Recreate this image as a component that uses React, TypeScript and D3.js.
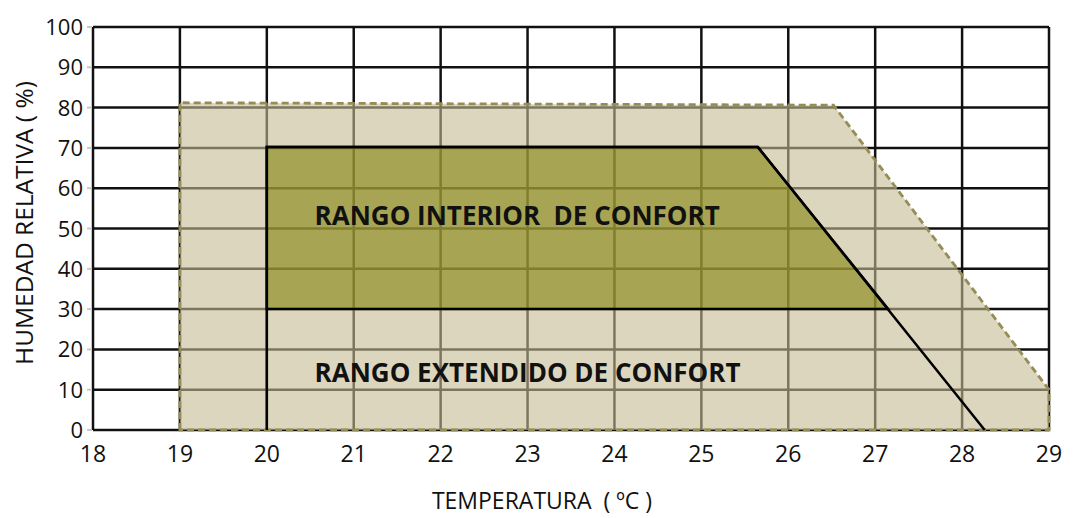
import React, {Component} from 'react'
import * as d3 from 'd3';

// axis ticks
const tempTicks = [18, 19, 20, 21, 22, 23, 24, 25, 26, 27, 28, 29];
const humTicks = [0, 10, 20, 30, 40, 50, 60, 70, 80, 90, 100];

// extended comfort range (outer dashed area)
const extendedTemp = [19, 19, 26.52, 29, 29];
const extendedHum = [0, 81.2, 80.6, 10, 0];

// interior comfort range (inner olive area)
const interiorTemp = [20, 20, 25.65, 27.15];
const interiorHum = [30, 70.2, 70.2, 30];

// black boundary line of the interior range
const boundaryTemp = [20, 20, 25.65, 28.26];
const boundaryHum = [0, 70.2, 70.2, 0];

const labelInterior = "RANGO INTERIOR  DE CONFORT";
const labelExtended = "RANGO EXTENDIDO DE CONFORT";
const labelInteriorAt = [20.55, 50.9];
const labelExtendedAt = [20.55, 11.9];

const xTitle = "TEMPERATURA  ( ºC )";
const yTitle = "HUMEDAD RELATIVA ( %)";

class App extends Component {
    svgRef = React.createRef<SVGSVGElement>();

    componentDidMount() {
        let svg = d3.select(this.svgRef.current);
        svg.selectAll("*").remove();

        let width = 1073;
        let height = 518;
        let margin = {top: 27, right: 24, bottom: 88, left: 93};

        let xScale = d3.scaleLinear()
            .domain([18, 29])
            .range([margin.left, width - margin.right]);

        let yScale = d3.scaleLinear()
            .domain([0, 100])
            .range([height - margin.bottom, margin.top]);

        let font = "'Open Sans', 'Noto Sans', sans-serif";

        // grid
        let grid = svg.append("g");
        grid.selectAll("line.h")
            .data(humTicks)
            .enter()
            .append("line")
            .attr("class", "h")
            .attr("x1", xScale(18))
            .attr("x2", xScale(29))
            .attr("y1", d => yScale(d))
            .attr("y2", d => yScale(d))
            .attr("stroke", "#111")
            .attr("stroke-width", 2.5);

        grid.selectAll("line.v")
            .data(tempTicks)
            .enter()
            .append("line")
            .attr("class", "v")
            .attr("x1", d => xScale(d))
            .attr("x2", d => xScale(d))
            .attr("y1", yScale(0))
            .attr("y2", yScale(100))
            .attr("stroke", "#111")
            .attr("stroke-width", 2.5);

        // small gray tick stubs on the y axis
        grid.selectAll("line.t")
            .data(humTicks)
            .enter()
            .append("line")
            .attr("class", "t")
            .attr("x1", xScale(18) - 6)
            .attr("x2", xScale(18) - 1)
            .attr("y1", d => yScale(d))
            .attr("y2", d => yScale(d))
            .attr("stroke", "#c8c8c8")
            .attr("stroke-width", 2);

        let area = d3.line<number>()
            .x(i => xScale(i[0]))
            .y(i => yScale(i[1]));

        let extendedPts: any = extendedTemp.map((t, i) => [t, extendedHum[i]]);
        let interiorPts: any = interiorTemp.map((t, i) => [t, interiorHum[i]]);
        let boundaryPts: any = boundaryTemp.map((t, i) => [t, boundaryHum[i]]);

        // extended area
        svg.append("path")
            .attr("d", area(extendedPts) + "Z")
            .attr("fill", "#c3bb91")
            .attr("fill-opacity", 0.6)
            .attr("stroke", "none");

        svg.append("path")
            .attr("d", area(extendedPts) + "Z")
            .attr("fill", "none")
            .attr("stroke", "#958d55")
            .attr("stroke-width", 2.8)
            .attr("stroke-dasharray", "7,4");

        // interior area
        svg.append("path")
            .attr("d", area(interiorPts) + "Z")
            .attr("fill", "#83840b")
            .attr("fill-opacity", 0.6)
            .attr("stroke", "#000")
            .attr("stroke-width", 2.5);

        svg.append("path")
            .attr("d", area(boundaryPts))
            .attr("fill", "none")
            .attr("stroke", "#000")
            .attr("stroke-width", 2.5);

        // y tick labels
        svg.selectAll("text.ylab")
            .data(humTicks)
            .enter()
            .append("text")
            .attr("class", "ylab")
            .attr("x", xScale(18) - 10)
            .attr("y", d => yScale(d) + 8)
            .attr("text-anchor", "end")
            .attr("font-family", font)
            .attr("font-size", 22)
            .attr("fill", "#111")
            .text(d => d);

        // x tick labels
        svg.selectAll("text.xlab")
            .data(tempTicks)
            .enter()
            .append("text")
            .attr("class", "xlab")
            .attr("x", d => xScale(d))
            .attr("y", yScale(0) + 32)
            .attr("text-anchor", "middle")
            .attr("font-family", font)
            .attr("font-size", 23)
            .attr("fill", "#111")
            .text(d => d);

        // axis titles
        svg.append("text")
            .attr("x", 542)
            .attr("y", 509)
            .attr("text-anchor", "middle")
            .attr("font-family", font)
            .attr("font-size", 23)
            .attr("fill", "#111")
            .style("white-space", "pre")
            .text(xTitle);

        svg.append("text")
            .attr("transform", "translate(33, 223) rotate(-90)")
            .attr("text-anchor", "middle")
            .attr("font-family", font)
            .attr("font-size", 24.5)
            .attr("fill", "#111")
            .style("white-space", "pre")
            .text(yTitle);

        // region labels
        svg.append("text")
            .attr("x", xScale(labelInteriorAt[0]))
            .attr("y", yScale(labelInteriorAt[1]))
            .attr("font-family", font)
            .attr("font-weight", "bold")
            .attr("font-size", 26)
            .attr("fill", "#111")
            .style("white-space", "pre")
            .text(labelInterior);

        svg.append("text")
            .attr("x", xScale(labelExtendedAt[0]))
            .attr("y", yScale(labelExtendedAt[1]))
            .attr("font-family", font)
            .attr("font-weight", "bold")
            .attr("font-size", 26)
            .attr("fill", "#111")
            .style("white-space", "pre")
            .text(labelExtended);
    }

    render() {
        return (
            <svg ref={this.svgRef} width={1073} height={518}
                 style={{position: "absolute", left: 0, top: 0, background: "#fff"}}></svg>
        );
    }
}

export default App;
